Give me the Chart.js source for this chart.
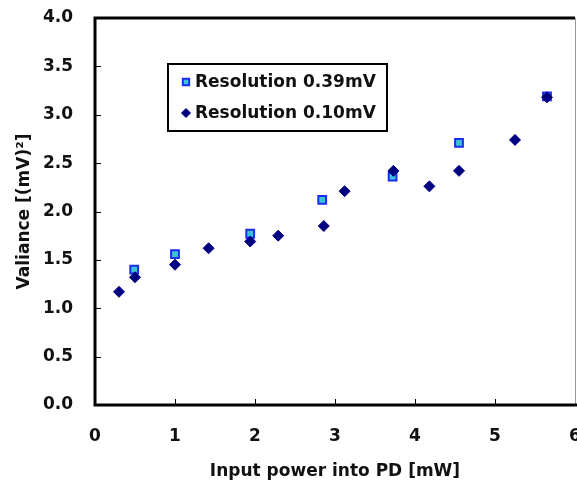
<!DOCTYPE html>
<html>
<head>
<meta charset="utf-8">
<script src="https://cdn.jsdelivr.net/npm/chart.js@4/dist/chart.umd.min.js"></script>
<style>
  html, body { margin: 0; padding: 0; background: #fff; }
  #wrap { width: 577px; height: 483px; }
</style>
</head>
<body>
<div id="wrap"><canvas id="varChart" width="577" height="483"></canvas></div>
<script>
// Resolution 0.39mV (squares)
const powerCoarse = [0.49, 1.00, 1.94, 2.84, 3.72, 4.55, 5.65];
const varCoarse = [1.40, 1.56, 1.77, 2.12, 2.36, 2.71, 3.19];

// Resolution 0.10mV (diamonds)
const powerFine = [0.30, 0.50, 1.00, 1.42, 1.94, 2.29, 2.86, 3.12, 3.73, 4.18, 4.55, 5.25, 5.65];
const varFine = [1.17, 1.32, 1.45, 1.62, 1.69, 1.75, 1.85, 2.21, 2.42, 2.26, 2.42, 2.74, 3.18];

const seriesLabels = ["Resolution 0.39mV", "Resolution 0.10mV"];
const xTicks = [0, 1, 2, 3, 4, 5, 6];
const yTicks = [0, 0.5, 1, 1.5, 2, 2.5, 3, 3.5, 4];

const FONT = "'DejaVu Sans', sans-serif";
const TICK_FONT = "bold 17px " + FONT;

function toPoints(xs, ys) {
  return xs.map((x, i) => ({ x: x, y: ys[i] }));
}

// frame + inward tick marks + boxed legend
const framePlugin = {
  id: "frame",
  beforeDatasetsDraw(chart) {
    const ctx = chart.ctx;
    const a = chart.chartArea;
    const xs = chart.scales.x;
    const ys = chart.scales.y;
    ctx.save();
    ctx.strokeStyle = "#000";
    ctx.lineWidth = 1;
    ctx.beginPath();
    yTicks.forEach((v) => {
      const py = Math.round(ys.getPixelForValue(v)) + 0.5;
      ctx.moveTo(a.left, py);
      ctx.lineTo(a.left + 6, py);
    });
    xTicks.forEach((v) => {
      const px = Math.round(xs.getPixelForValue(v)) + 0.5;
      ctx.moveTo(px, a.bottom);
      ctx.lineTo(px, a.bottom - 6);
    });
    ctx.stroke();

    // thin right edge
    ctx.strokeStyle = "#999";
    ctx.beginPath();
    ctx.moveTo(a.right + 0.5, a.top);
    ctx.lineTo(a.right + 0.5, a.bottom);
    ctx.stroke();

    // heavy left / top / bottom
    ctx.strokeStyle = "#000";
    ctx.lineWidth = 3;
    ctx.beginPath();
    ctx.moveTo(a.right, a.top);
    ctx.lineTo(a.left, a.top);
    ctx.lineTo(a.left, a.bottom);
    ctx.lineTo(a.right + 2, a.bottom);
    ctx.stroke();

    // last x label sits on the canvas edge (cut off as in the source)
    const last = xTicks[xTicks.length - 1];
    ctx.font = TICK_FONT;
    ctx.fillStyle = "#111";
    ctx.textAlign = "center";
    ctx.textBaseline = "middle";
    ctx.fillText(String(last), xs.getPixelForValue(last), a.bottom + 32);
    ctx.restore();
  },
  afterDraw(chart) {
    const ctx = chart.ctx;
    const ds = chart.data.datasets;
    ctx.save();
    ctx.fillStyle = "#fff";
    ctx.fillRect(168, 64, 219, 67);
    ctx.strokeStyle = "#000";
    ctx.lineWidth = 2;
    ctx.strokeRect(168, 64, 219, 67);

    const rows = [82, 113];
    ctx.font = TICK_FONT;
    ctx.textBaseline = "middle";
    ctx.fillStyle = "#111";
    ds.forEach((d, i) => {
      const y = rows[i];
      ctx.save();
      ctx.fillStyle = d.backgroundColor;
      ctx.strokeStyle = d.borderColor;
      ctx.lineWidth = d.borderWidth;
      Chart.helpers.drawPoint(ctx, {
        pointStyle: d.pointStyle,
        radius: d.pointRadius - 1,
        borderWidth: d.borderWidth
      }, 186, y);
      ctx.restore();
      ctx.fillText(d.label, 195, y + 1);
    });
    ctx.restore();
  }
};

const ctx = document.getElementById("varChart").getContext("2d");
new Chart(ctx, {
  type: "scatter",
  data: {
    datasets: [
      {
        label: seriesLabels[0],
        data: toPoints(powerCoarse, varCoarse),
        pointStyle: "rect",
        pointRadius: 5.5,
        pointHoverRadius: 5.5,
        backgroundColor: "#3cc4d4",
        borderColor: "#1a2cf0",
        borderWidth: 2,
        order: 2
      },
      {
        label: seriesLabels[1],
        data: toPoints(powerFine, varFine),
        pointStyle: "rectRot",
        pointRadius: 5.5,
        pointHoverRadius: 5.5,
        backgroundColor: "#000080",
        borderColor: "#000080",
        borderWidth: 1,
        order: 1
      }
    ]
  },
  options: {
    responsive: false,
    animation: false,
    layout: { autoPadding: false, padding: { top: 18, right: 2, left: 0, bottom: 0 } },
    plugins: {
      legend: { display: false },
      tooltip: { enabled: false }
    },
    scales: {
      x: {
        type: "linear",
        min: 0,
        max: 6,
        afterBuildTicks: (s) => { s.ticks = xTicks.map((v) => ({ value: v })); },
        afterFit: (s) => { s.height = 78; s.paddingLeft = 0; s.paddingRight = 0; },
        grid: { display: false, drawTicks: false },
        border: { display: false },
        ticks: {
          padding: 21,
          color: "#111",
          font: { family: FONT, size: 17, weight: "bold" },
          // the last label is drawn by the plugin so it can hang off the edge
          callback: (v) => (v === xTicks[xTicks.length - 1] ? "" : String(v))
        },
        title: {
          display: true,
          text: "Input power into PD [mW]",
          color: "#111",
          padding: { top: 0, bottom: 1 },
          font: { family: FONT, size: 17, weight: "bold" }
        }
      },
      y: {
        type: "linear",
        min: 0,
        max: 4,
        afterBuildTicks: (s) => { s.ticks = yTicks.map((v) => ({ value: v })); },
        afterFit: (s) => { s.width = 95; s.paddingTop = 0; s.paddingBottom = 0; },
        grid: { display: false, drawTicks: false },
        border: { display: false },
        ticks: {
          padding: 22,
          color: "#111",
          font: { family: FONT, size: 17, weight: "bold" },
          callback: (v) => v.toFixed(1)
        },
        title: {
          display: true,
          text: "Valiance [(mV)\u00b2]",
          color: "#111",
          padding: { top: 14, bottom: 0 },
          font: { family: FONT, size: 17, weight: "bold" }
        }
      }
    }
  },
  plugins: [framePlugin]
});
</script>
</body>
</html>
